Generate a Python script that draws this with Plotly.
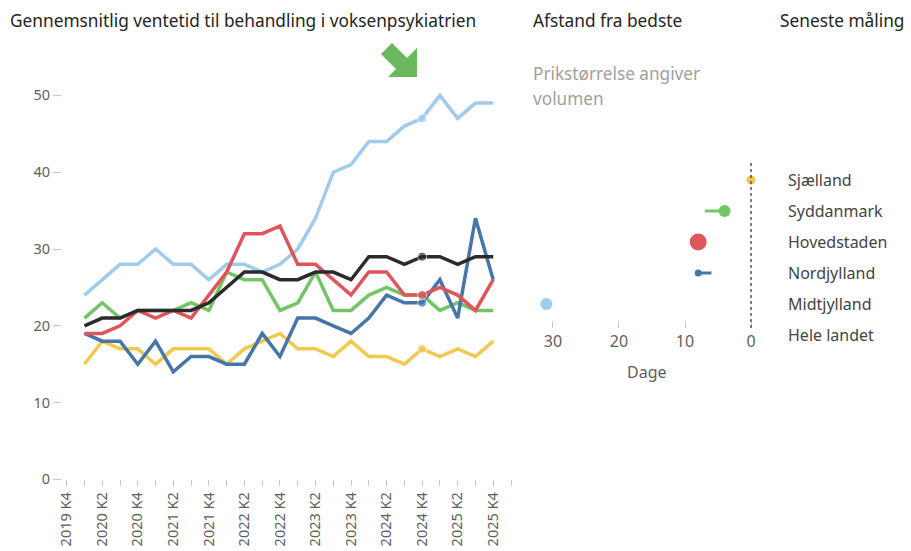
import plotly.graph_objects as go

W, H = 911, 551
FONT = "Segoe UI, Noto Sans, DejaVu Sans, sans-serif"

# ---------------- data ----------------
quarters = ["2019 K4",
            "2020 K1", "2020 K2", "2020 K3", "2020 K4",
            "2021 K1", "2021 K2", "2021 K3", "2021 K4",
            "2022 K1", "2022 K2", "2022 K3", "2022 K4",
            "2023 K1", "2023 K2", "2023 K3", "2023 K4",
            "2024 K1", "2024 K2", "2024 K3", "2024 K4",
            "2025 K1", "2025 K2", "2025 K3", "2025 K4"]
highlight_quarter = "2024 K4"

# waiting time (days), 2019 K4 has no measurement
midtjylland = [None, 24, 26, 28, 28, 30, 28, 28, 26, 28, 28, 27, 28, 30, 34, 40, 41, 44, 44, 46, 47, 50, 47, 49, 49]
hovedstaden = [None, 19, 19, 20, 22, 21, 22, 21, 24, 27, 32, 32, 33, 28, 28, 26, 24, 27, 27, 24, 24, 25, 24, 22, 26]
syddanmark  = [None, 21, 23, 21, 22, 22, 22, 23, 22, 27, 26, 26, 22, 23, 27, 22, 22, 24, 25, 24, 24, 22, 23, 22, 22]
nordjylland = [None, 19, 18, 18, 15, 18, 14, 16, 16, 15, 15, 19, 16, 21, 21, 20, 19, 21, 24, 23, 23, 26, 21, 34, 26]
sjaelland   = [None, 15, 18, 17, 17, 15, 17, 17, 17, 15, 17, 18, 19, 17, 17, 16, 18, 16, 16, 15, 17, 16, 17, 16, 18]
hele_landet = [None, 20, 21, 21, 22, 22, 22, 22, 23, 25, 27, 27, 26, 26, 27, 27, 26, 29, 29, 28, 29, 29, 28, 29, 29]

y_ticks = [0, 10, 20, 30, 40, 50]

# distance from best (days)
regions   = ["Sjælland", "Syddanmark", "Hovedstaden", "Nordjylland", "Midtjylland"]
label_rows = ["Sjælland", "Syddanmark", "Hovedstaden", "Nordjylland", "Midtjylland", "Hele landet"]
dist_now  = [0, 4, 8, 8, 31]
dist_prev = [0, 7, 8, 6, 31]
dot_size  = [9, 12, 17, 7, 12]
dist_ticks = [30, 20, 10, 0]

colors = {
    "Midtjylland": "#A0CBEA",
    "Hovedstaden": "#E0555B",
    "Syddanmark": "#74C566",
    "Nordjylland": "#4676A8",
    "Sjælland": "#F2C94F",
    "Hele landet": "#2B2B2B",
}

# ---------------- helpers (pixel -> paper) ----------------
def pxx(x):
    return x / W

def pxy(y):
    return 1 - y / H

fig = go.Figure()

series = [("Midtjylland", midtjylland), ("Syddanmark", syddanmark),
          ("Sjælland", sjaelland), ("Nordjylland", nordjylland),
          ("Hovedstaden", hovedstaden), ("Hele landet", hele_landet)]

xidx = list(range(len(quarters)))
hi = quarters.index(highlight_quarter)
for name, vals in series:
    sizes = [9 if i == hi else 0 for i in xidx]
    fig.add_trace(go.Scatter(
        x=xidx, y=vals, mode="lines+markers", name=name,
        line=dict(color=colors[name], width=3.5),
        marker=dict(size=sizes, color=colors[name]),
        xaxis="x", yaxis="y", showlegend=False, connectgaps=False))

# dot plot: change line then dot
for r, now, prev, s in zip(regions, dist_now, dist_prev, dot_size):
    if prev != now:
        fig.add_trace(go.Scatter(
            x=[prev, now], y=[r, r], mode="lines",
            line=dict(color=colors[r], width=3),
            xaxis="x2", yaxis="y2", showlegend=False))
    fig.add_trace(go.Scatter(
        x=[now], y=[r], mode="markers",
        marker=dict(size=s, color=colors[r]),
        xaxis="x2", yaxis="y2", showlegend=False))

# ---------------- axes ----------------
tick_positions = list(range(len(quarters) + 1))
tick_text = [q if i % 2 == 0 else "" for i, q in enumerate(quarters)] + [""]

step = (511 - 66.7) / len(quarters)
x0 = -(66.7 - 62) / step
x1 = len(quarters) + (515 - 511) / step

fig.update_layout(
    width=W, height=H,
    margin=dict(l=0, r=0, t=0, b=0),
    paper_bgcolor="white", plot_bgcolor="white",
    font=dict(family=FONT, color="#605E5C"),
    xaxis=dict(domain=[pxx(62), pxx(515)], range=[x0, x1],
               tickmode="array", tickvals=tick_positions, ticktext=tick_text,
               tickangle=-90, ticks="outside", ticklen=6, tickcolor="#C8C8C8",
               tickfont=dict(size=14.5, color="#605E5C"),
               showgrid=False, zeroline=False, showline=False, automargin=False),
    yaxis=dict(domain=[pxy(479.4), pxy(57)], range=[0, 55],
               tickmode="array", tickvals=y_ticks,
               ticks="outside", ticklen=8, tickcolor="#C8C8C8",
               tickfont=dict(size=14.5, color="#605E5C"),
               showgrid=False, zeroline=False, showline=False, automargin=False),
    xaxis2=dict(domain=[pxx(530), pxx(760)], range=[33.48, -1.36],
                anchor="y2", tickmode="array", tickvals=dist_ticks,
                ticks="outside", ticklen=7, tickcolor="#C8C8C8",
                tickfont=dict(size=16, color="#605E5C"),
                showgrid=False, zeroline=False, showline=False, automargin=False),
    yaxis2=dict(domain=[pxy(319.5), pxy(164.5)], anchor="x2",
                type="category", categoryarray=regions, range=[4.5, -0.5],
                showticklabels=False, ticks="", showgrid=False,
                zeroline=False, showline=False, automargin=False),
    hovermode=False,
)

# dotted reference line at 0
fig.add_shape(type="line", xref="x2", yref="paper", x0=0, x1=0,
              y0=pxy(328), y1=pxy(163),
              line=dict(color="#555555", width=1.5, dash="dot"))

# green arrow (decoration)
arrow_pts = [(392, 43), (407, 58), (417, 48), (417, 77), (388, 77), (396, 69), (381, 54)]
path = "M " + " L ".join(f"{pxx(x):.5f},{pxy(y):.5f}" for x, y in arrow_pts) + " Z"
fig.add_shape(type="path", xref="paper", yref="paper", path=path,
              fillcolor="#6BB85F", line=dict(width=0))

# titles and texts
def text(x, y, s, size, color, anchor="left"):
    fig.add_annotation(x=pxx(x), y=pxy(y), xref="paper", yref="paper",
                       text=s, showarrow=False, xanchor=anchor, yanchor="middle",
                       font=dict(size=size, color=color, family=FONT))

text(8, 21, "Gennemsnitlig ventetid til behandling i voksenpsykiatrien", 17.3, "#252423")
text(531, 21, "Afstand fra bedste", 17.3, "#252423")
text(778, 21, "Seneste måling", 17.3, "#252423")
text(531, 73, "Prikstørrelse angiver", 17.2, "#A19F9D")
text(531, 99, "volumen", 17.2, "#A19F9D")
text(647, 372, "Dage", 16, "#605E5C", anchor="center")

for i, lab in enumerate(label_rows):
    text(786, 180 + 31 * i, lab, 16, "#444444")

fig.write_html("out.html", config={"displayModeBar": False, "staticPlot": True},
               post_script="document.body.style.margin='0';")
